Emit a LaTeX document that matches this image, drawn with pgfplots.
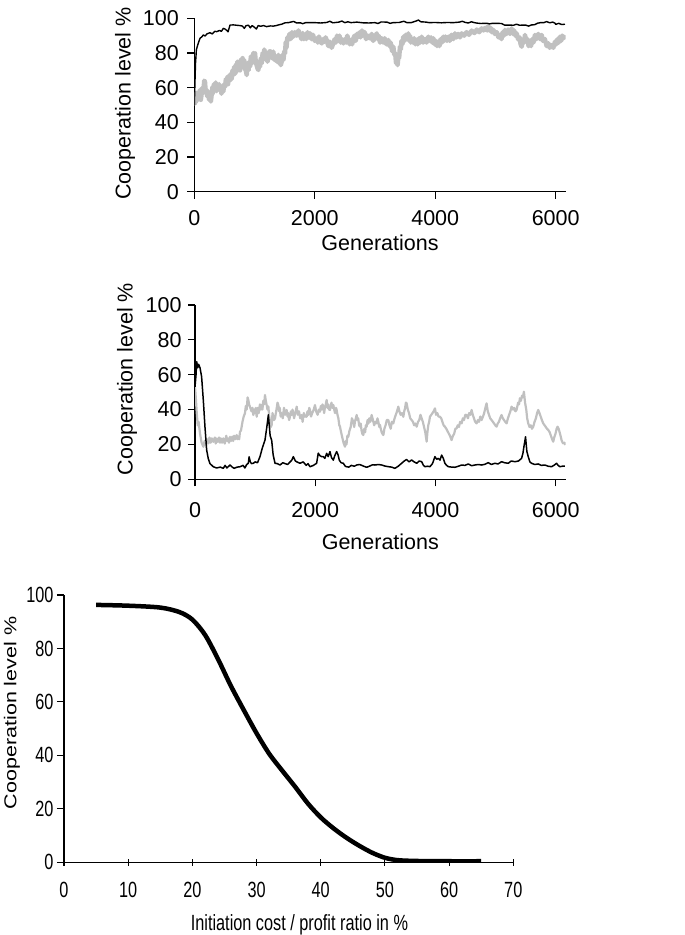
\documentclass[border=0pt]{standalone}
\usepackage{fontspec}
\setmainfont{Liberation Sans}
\newfontfamily\condfont[FakeStretch=0.74]{Liberation Sans}
\usepackage{pgfplots}
\pgfplotsset{compat=1.18}
\definecolor{lgray}{RGB}{192,192,192}
\pgfplotsset{
  common/.style={
    scale only axis,
    axis x line*=bottom, axis y line*=left,
    tick align=outside,
    major tick length=7pt,
    ymin=0, ymax=100, ytick={0,20,...,100},
    /pgf/number format/assume math mode=true,
    /pgf/number format/1000 sep={},
    axis line style={line width=1.1pt},
    every tick/.style={line width=1.1pt, black},
  },
  gen/.style={common,
    xmin=0, xmax=6166, xtick={0,2000,4000,6000},
    tick label style={font=\fontsize{21.5}{25}\selectfont},
    label style={font=\fontsize{21.5}{25}\selectfont},
    xlabel={Generations}, ylabel={Cooperation level \%},
  },
}
\begin{document}
\begin{tikzpicture}
\path[use as bounding box] (0,0) rectangle (685pt,-935pt);
% ---------- panel 1 ----------
\begin{axis}[gen,
  at={(194.3pt,-191.7pt)}, anchor=south west,
  width=371.4pt, height=173.4pt,
  xticklabel style={yshift=-8pt},
  yticklabel style={xshift=-5pt},
  ylabel style={at={(axis description cs:-0.1866,0.509)}, anchor=center},
  xlabel style={at={(axis description cs:0.5,-0.296)}, anchor=center},
]
\addplot[lgray, line width=4.5pt, line join=round] coordinates {
(0,55.8)(10,51)(20,56)(30,52)(40,57)(50,53)(60,57)(75,54)(94,58.7)(108,53)(120,56)(135,60)(150,57)(165,64)(177,63.5)(190,57)(200,59)(215,55)(232,57.7)
(245,53)(260,56)(275,52)(288,55.9)(300,60)(310,57)(325,62)(343,59.6)(355,63)(370,58)(385,62)(400,59)(413,62)(426,58.6)(438,61)(450,56.5)(465,60)(482,57.7)(495,62)(510,60.5)
(525,65)(537,62.5)(550,66)(560,62)(575,67)(590,64)(605,68)(620,65)(635,70)(648,67.2)(662,72)(680,68)(690,73)(700,69.5)(715,75)(731,71.1)(745,74)(760,70)(775,76)(790,72)
(802,77)(814,73.0)(828,76)(840,71)(855,70)(870,67.3)(885,73)(900,70)(912,75)(925,72.1)(940,78)(960,74)(980,80)(995,76)(1008,79.8)(1020,75)(1035,73)(1050,71)(1064,70.2)(1077,75)(1090,72)
(1105,77)(1119,74.0)(1135,80)(1150,77)(1162,82)(1174,79.8)(1188,76)(1200,79)(1215,75)(1230,77.0)(1245,81)(1258,78)(1270,81)(1290,77)(1312,80.8)(1330,76)(1350,78)(1372,75)(1395,78.9)(1408,74)(1420,77)
(1436,73)(1451,75.1)(1466,79)(1480,76)(1494,81)(1506,79.8)(1518,86)(1530,83)(1545,89)(1561,87.5)(1580,91)(1600,88)(1622,92)(1644,89.4)(1670,92)(1700,90)(1730,93)(1755,90.3)(1780,88)(1800,91.5)
(1820,88)(1838,90.4)(1860,88)(1880,92)(1900,89)(1921,91.4)(1945,88)(1970,90.5)(2000,87)(2032,88.5)(2050,86)(2070,89.5)(2090,87)(2115,85.5)(2140,88)(2160,86.5)(2180,89)(2198,87.4)(2225,84)(2250,86.5)
(2280,83)(2309,85.6)(2330,88)(2350,86)(2370,90)(2392,88.4)(2410,90)(2430,86)(2450,88)(2475,85.5)(2500,88)(2520,86)(2540,90)(2558,87.4)(2580,85)(2600,87.5)(2620,85)(2641,88.4)(2660,90)(2680,87)
(2700,91)(2724,89.3)(2745,92)(2760,89)(2785,93)(2806,90.2)(2830,92)(2850,88)(2880,90)(2917,88.4)(2945,91)(2970,87)(3000,89)(3028,91.3)(3045,88)(3060,90)(3085,86)(3111,88.5)(3135,86)(3160,88.5)
(3190,85)(3221,87.5)(3240,84)(3260,86)(3285,81)(3304,83.7)(3320,79)(3335,80)(3350,74)(3360,76)(3375,73)(3390,79)(3400,77)(3415,83.7)(3428,82)(3440,87)(3455,85)(3470,89.4)(3490,87)(3510,90.5)
(3530,88)(3553,91.3)(3565,87)(3580,90)(3595,86)(3609,88.4)(3630,86)(3650,88.5)(3670,85)(3692,87.5)(3710,85)(3730,88.5)(3750,86)(3775,89.4)(3800,86)(3830,88)(3855,86)(3885,89.4)(3910,87)(3930,89)
(3950,86)(3968,88.5)(3990,85)(4010,87)(4030,84)(4051,86.6)(4070,84)(4090,88)(4110,86)(4134,89.4)(4150,87)(4170,89.5)(4195,87)(4217,89.4)(4240,87)(4270,90.5)(4300,88)(4328,91.3)(4355,89)(4380,91)
(4410,89)(4439,91.3)(4480,90)(4520,92)(4560,90.5)(4605,92.9)(4650,91.5)(4690,93.5)(4730,92)(4771,94.2)(4800,93)(4830,94.5)(4860,93)(4882,95.5)(4900,93)(4920,94.5)(4940,92)(4965,93.3)(4990,91)(5020,92)
(5050,89)(5075,90.4)(5100,88)(5120,92)(5140,90)(5158,93.3)(5185,91)(5210,93.5)(5240,91)(5269,94.2)(5290,91)(5310,93)(5330,90)(5352,91.3)(5375,88)(5400,89)(5418,85)(5435,83.6)(5448,86)(5460,88)
(5475,86)(5490,90.4)(5510,87)(5530,88)(5550,84)(5573,85.6)(5590,84)(5610,88)(5630,86)(5656,90.4)(5680,88)(5710,91)(5740,88)(5767,90.4)(5790,87)(5820,88)(5850,84)(5877,85.6)(5900,83)(5930,84.5)
(5960,83)(5988,86.5)(6010,85)(6030,88)(6050,86)(6071,89.4)(6090,87)(6110,90)(6130,88.5)(6154,90.3)
};
\addplot[black, line width=1.4pt, line join=round] coordinates {
(0,50)(10,62)(20,74)(35,82)(60,85)(94,88.4)(130,89.5)(150,90.4)(180,89.8)(210,91)
(260,91.7)(300,91)(340,92.5)(371,92.3)(420,93)(450,92.5)(482,94.2)(510,93.8)(540,93)(560,92.2)
(593,96.1)(650,96.2)(700,96)(760,95.8)(800,95.5)(830,94.2)(860,95.8)(900,96)(930,94.5)(960,95.8)
(1000,94.8)(1030,93.8)(1060,95.8)(1100,95.4)(1150,95.8)(1200,95.2)(1260,95.6)(1312,95.5)(1360,95.8)(1400,96.2)
(1450,96.6)(1506,97.4)(1560,97.5)(1600,97.8)(1650,98.2)(1700,97.3)(1760,97.4)(1800,96.9)(1850,97.5)(1900,97.5)
(2000,97.5)(2100,97.3)(2200,97.6)(2250,98.3)(2300,97.4)(2400,97.8)(2450,98.4)(2500,97.5)(2550,98.0)(2600,97.5)
(2700,97.8)(2800,97.4)(2900,97.3)(3000,97.5)(3050,97.0)(3100,97.9)(3200,97.8)(3250,97.1)(3300,97.5)(3400,97.6)
(3480,98.3)(3530,97.5)(3600,97.5)(3680,98.4)(3720,99.0)(3760,98.0)(3850,97.8)(3900,97.5)(4000,97.6)(4100,97.4)
(4200,97.6)(4300,97.5)(4400,97.8)(4450,98.3)(4500,97.6)(4550,97.3)(4600,98.0)(4650,97.5)(4700,97.2)(4760,97.0)
(4800,97.1)(4860,97.1)(4900,96.8)(4950,97.1)(5000,97.1)(5100,97.0)(5150,96.1)(5200,96.1)(5300,96.0)(5350,96.6)
(5400,96.0)(5500,96.1)(5550,95.5)(5600,96.2)(5650,96.3)(5700,97.2)(5750,97.5)(5800,97.5)(5850,98.1)(5900,97.4)
(5950,97.8)(5988,97.2)(6000,96.5)(6050,97.1)(6100,96.4)(6154,96.6)
};
\end{axis}
% ---------- panel 2 ----------
\begin{axis}[gen,
  at={(195pt,-479.3pt)}, anchor=south west,
  width=370.7pt, height=174.3pt,
  xticklabel style={yshift=-13pt},
  yticklabel style={xshift=-3pt},
  ylabel style={at={(axis description cs:-0.183,0.575)}, anchor=center},
  xlabel style={at={(axis description cs:0.5,-0.36)}, anchor=center},
]
\addplot[lgray, line width=2.2pt, line join=round] coordinates {
(0,53.1)(15,46)(28,38.7)(45,31)(60,33)(83,26.4)(110,21)(139,18.7)(160,22)(180,19.5)(200,23)(222,20.6)(240,24)(260,21)(280,23.5)(305,21.5)(330,24)(345,20.5)(360,23.4)
(380,21.5)(400,24)(415,21)(430,23.5)(450,21)(471,23.5)(495,20.5)(520,25)(535,22)(550,23.5)(565,21)(582,24.4)(600,22)(620,24.5)(635,22)(650,25)(670,23)(693,25.4)(710,23)(720,24.5)
(735,23)(748,27.3)(765,28)(790,33)(810,36)(831,37.9)(845,42)(860,40)(875,47)(887,45.5)(900,43)(920,41)(940,39)(955,41)(970,36.9)(985,40)(1000,38)(1012,41)(1026,35.9)(1045,41)(1060,38)
(1080,43)(1095,40)(1109,42.7)(1122,40)(1135,45)(1150,43)(1164,48.4)(1178,45)(1190,43)(1205,40)(1220,41.8)(1235,36)(1250,33)(1262,30)(1275,31.2)(1290,38)(1300,36)(1315,34)(1331,35.0)(1345,38)(1360,41)
(1372,44)(1386,42.6)(1398,39)(1410,41)(1425,36)(1441,37.9)(1460,35)(1480,41)(1500,37)(1525,39.8)(1540,36)(1550,38)(1565,34)(1580,35.9)(1595,39)(1610,37)(1622,40)(1635,37.8)(1648,35)(1660,37)
(1675,39)(1691,41.7)(1710,37)(1730,39)(1750,35)(1774,36.9)(1790,33)(1810,38)(1830,36)(1857,35.9)(1870,39)(1885,37)(1900,41)(1913,39.7)(1930,36)(1950,38)(1975,40)(1996,42.6)(2015,39)(2040,37)
(2060,40)(2079,38.8)(2092,42)(2105,40)(2120,43)(2134,41.6)(2148,38)(2160,41)(2175,43)(2190,45.5)(2203,41)(2215,43)(2230,40)(2245,39.8)(2258,42)(2270,44)(2285,41)(2301,42.7)(2315,40)(2330,38)
(2345,41)(2356,39.8)(2370,37)(2385,35)(2400,31)(2412,30.2)(2430,27)(2450,24)(2470,21)(2495,18.7)(2508,22)(2520,20)(2535,25)(2550,24.4)(2570,28)(2590,30)(2610,35)(2633,33.0)(2648,30)(2660,33)
(2675,35)(2689,36.9)(2702,34)(2715,35)(2730,31)(2744,30.2)(2757,32)(2770,28)(2785,26)(2800,25.4)(2815,29)(2830,27)(2842,31)(2855,30.2)(2870,34)(2885,32)(2900,35)(2918,33)(2938,36.9)(2960,34)
(2980,31)(3000,33)(3021,32.1)(3035,35)(3050,33)(3065,30)(3077,31.2)(3090,29)(3105,27)(3120,26)(3133,25.4)(3150,29)(3170,31)(3190,34)(3216,34.0)(3235,31)(3255,29)(3275,33)(3299,32.1)(3320,35)
(3340,37)(3360,39)(3382,41.7)(3400,39)(3420,37)(3440,38)(3465,35.9)(3480,39)(3495,41)(3508,44)(3520,43.6)(3540,40)(3560,38)(3580,35)(3603,34.0)(3625,33)(3645,31)(3665,32)(3687,30.2)(3710,33)
(3730,34)(3750,37)(3770,35.0)(3790,33)(3810,30)(3830,27)(3853,21.6)(3866,27)(3880,31)(3895,33)(3908,35.9)(3930,37)(3950,38)(3970,39)(3991,40.7)(4010,37)(4030,38)(4050,36)(4074,35.9)(4095,35)
(4115,33)(4135,31)(4157,30.2)(4180,29)(4210,27)(4240,25)(4268,22.5)(4290,25)(4310,26)(4330,29)(4351,29.2)(4370,31)(4390,30)(4410,33)(4435,32.1)(4455,35)(4475,34)(4495,37)(4518,36.9)(4540,35)
(4560,38)(4580,37)(4601,39.8)(4620,37)(4640,35)(4660,33)(4684,32.1)(4705,34)(4725,33)(4745,36)(4767,34.0)(4790,36)(4810,38)(4830,41)(4850,43.6)(4870,39)(4890,37)(4910,35)(4933,34.0)(4955,33)
(4975,32)(4995,31)(5016,30.2)(5035,32)(5055,33)(5075,35)(5099,36.9)(5120,35)(5140,34)(5160,33)(5183,32.1)(5205,35)(5225,37)(5245,39)(5266,41.7)(5290,40)(5310,41)(5330,39)(5349,39.8)(5362,42)
(5375,44)(5390,43)(5404,46.5)(5420,45)(5440,48)(5455,47)(5471,50.3)(5490,44)(5510,40)(5525,35)(5543,32.1)(5565,30)(5585,31)(5605,29)(5626,30.2)(5648,33)(5670,35)(5690,38)(5709,39.8)(5730,38)
(5750,36)(5770,34)(5792,32.1)(5815,31)(5835,30)(5855,29)(5876,28.3)(5900,27)(5920,25)(5940,23)(5959,21.6)(5975,24)(5995,26)(6015,29)(6031,30.2)(6048,29)(6065,27)(6080,25)(6097,22.5)(6115,21)(6130,20.5)(6145,21)(6163,19.7)
};
\addplot[black, line width=1.5pt, line join=round] coordinates {
(0,53)(17,60)(28,67.5)(45,64)(60,66)(83,64)(110,58.9)(139,45)(166,30)(194,16.8)
(220,12)(249,9)(280,8)(305,7.2)(360,6.5)(420,7)(471,6.3)(500,8)(530,6.5)(582,8.2)
(620,7)(650,6.3)(700,7)(748,7.2)(800,8)(830,6.5)(860,8.5)(887,9.2)(900,12.9)(920,10)
(940,9)(970,9.2)(1000,10)(1040,9.5)(1081,13)(1120,18)(1164,22.5)(1195,30)(1220,37)(1250,25)
(1275,22.5)(1300,14)(1331,9.2)(1370,9)(1414,8.2)(1460,9.5)(1500,9)(1540,8.5)(1580,9.9)(1610,11)
(1635,13)(1670,10.5)(1700,9.9)(1746,9.2)(1800,10)(1850,8)(1880,9)(1913,7.2)(1970,8)(2023,9.2)
(2050,15)(2080,13.5)(2106,13)(2134,13)(2160,12)(2190,14.9)(2215,13)(2245,15.9)(2270,12.5)(2300,11)
(2330,14)(2356,15.9)(2380,14)(2400,11)(2430,9.5)(2467,9.2)(2500,7.5)(2522,7.2)(2560,7)(2600,8)
(2650,7.5)(2689,8.2)(2740,8.5)(2800,7.6)(2855,6.9)(2900,7.5)(2950,8.3)(2994,8.2)(3050,8.5)(3105,8.2)
(3160,7.6)(3216,7.25)(3270,7)(3326,6.3)(3380,7.5)(3437,9.2)(3480,10.5)(3520,11.4)(3560,10)(3603,11.1)
(3645,10)(3687,9.2)(3730,10.5)(3770,10.1)(3800,8)(3825,7.25)(3870,7.5)(3908,7.25)(3950,9)(3991,13)
(4020,11.5)(4047,12)(4075,11)(4102,13.9)(4130,12)(4157,9.2)(4185,8)(4213,7.25)(4270,7)(4324,6.9)
(4380,7.5)(4435,8.2)(4490,8)(4546,8.8)(4600,7.8)(4656,8.2)(4710,8.5)(4767,8.2)(4820,8.6)(4878,9.55)
(4930,8.5)(4989,9.2)(5040,8.8)(5099,10.1)(5150,9.5)(5210,9.2)(5260,10.5)(5321,10.1)(5380,10.5)(5432,12)
(5455,15)(5471,18.7)(5498,24.4)(5520,16)(5543,13)(5570,10)(5598,9.2)(5650,8.5)(5709,8.8)(5760,8)
(5820,8.2)(5875,7.5)(5931,7.25)(5970,8)(6014,9.2)(6040,8)(6069,7.25)(6110,7.5)(6152,7.6)
};
\end{axis}
% ---------- panel 3 ----------
\begin{axis}[common,
  at={(64pt,-862.3pt)}, anchor=south west,
  width=449.3pt, height=267.3pt,
  xmin=0, xmax=70, xtick={0,10,...,70},
  x tick style={yshift=3.5pt},
  tick label style={font=\condfont\fontsize{22}{26}\selectfont},
  label style={font=\condfont\fontsize{22}{26}\selectfont},
  xticklabel style={yshift=-9pt},
  xlabel={Initiation cost / profit ratio in \%},
  ylabel={Cooperation level \%},
  ylabel style={at={(axis description cs:-0.116,0.559)}, anchor=center, font=\fontsize{21.5}{25}\selectfont, yscale=0.8},
  xlabel style={at={(axis description cs:0.524,-0.235)}, anchor=center},
]
\addplot[black, line width=4.5pt, smooth] coordinates {
(5,96.3)(10,96.0)(15,95.3)(18,93.6)(20,90.8)(22,85)(24,76)(26,66)(28,57)(30,48.3)
(32,40.5)(34,34.3)(36,28.3)(38,22)(40,16.8)(42,12.7)(44,9.2)(46,6.2)(48,3.6)(50,1.7)
(52,0.8)(55,0.5)(60,0.4)(65,0.4)
};
\end{axis}
\end{tikzpicture}
\end{document}
